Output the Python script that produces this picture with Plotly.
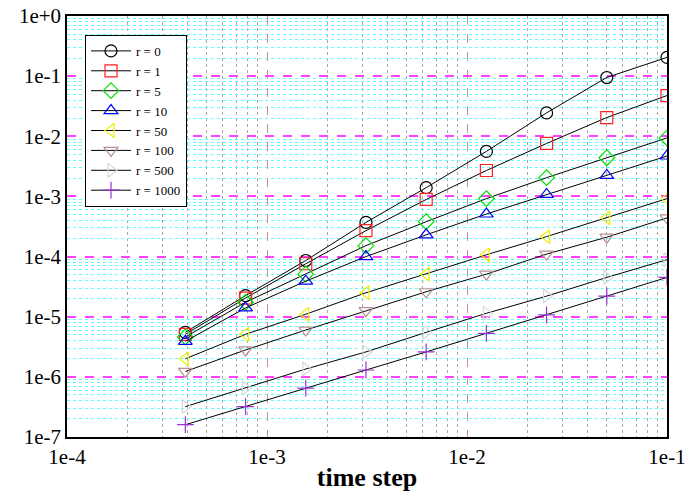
import plotly.graph_objects as go

time_step = [0.1, 0.05, 0.025, 0.0125, 0.00625, 0.003125, 0.0015625, 0.00078125, 0.000390625]

r0 = [0.205, 0.095, 0.0245, 0.0056, 0.0014, 3.7e-4, 8.6e-5, 2.24e-5, 5.5e-6]
r1 = [0.0476, 0.0205, 0.0076, 0.0027, 8.9e-4, 2.7e-4, 7.6e-5, 2.04e-5, 5.1e-6]
r5 = [0.0094, 0.0044, 0.00205, 9.2e-4, 3.8e-4, 1.52e-4, 5.1e-5, 1.74e-5, 4.6e-6]
r10 = [0.0047, 0.00224, 0.00108, 5.1e-4, 2.3e-4, 1.0e-4, 3.9e-5, 1.4e-5, 3.9e-6]
r50 = [9.2e-4, 4.4e-4, 2.15e-4, 1.07e-4, 5.1e-5, 2.5e-5, 1.1e-5, 5.1e-6, 2.0e-6]
r100 = [4.4e-4, 2.1e-4, 1.1e-4, 5.1e-5, 2.6e-5, 1.26e-5, 6.0e-6, 2.8e-6, 1.23e-6]
r500 = [8.9e-5, 4.5e-5, 2.2e-5, 1.14e-5, 5.5e-6, 2.6e-6, 1.35e-6, 6.5e-7, 3.2e-7]
r1000 = [4.5e-5, 2.2e-5, 1.07e-5, 5.3e-6, 2.6e-6, 1.3e-6, 6.5e-7, 3.2e-7, 1.6e-7]

series_names = ["r = 0", "r = 1", "r = 5", "r = 10", "r = 50", "r = 100", "r = 500", "r = 1000"]
series_values = [r0, r1, r5, r10, r50, r100, r500, r1000]
colors = ["#000000", "#ff2020", "#00e000", "#0000ff", "#f0f000", "#bc8f8f", "#d8d8d8", "#9b30d0"]
symbols = ["circle-open", "square-open", "diamond-open", "triangle-up-open",
           "triangle-left-open", "triangle-down-open", "triangle-right-open", "cross-thin-open"]

x_tickvals = [1e-4, 1e-3, 1e-2, 1e-1]
x_ticktext = ["1e-4", "1e-3", "1e-2", "1e-1"]
y_tickvals = [1e-7, 1e-6, 1e-5, 1e-4, 1e-3, 1e-2, 1e-1, 1e0]
y_ticktext = ["1e-7", "1e-6", "1e-5", "1e-4", "1e-3", "1e-2", "1e-1", "1e+0"]

x_minor = [m * 10.0 ** e for e in range(-4, -1) for m in range(2, 10)]
y_minor = [m * 10.0 ** e for e in range(-7, 0) for m in range(2, 10)]

fig = go.Figure()
for name, vals, col, sym in zip(series_names, series_values, colors, symbols):
    fig.add_trace(go.Scatter(
        x=time_step, y=vals, name=name, mode="lines+markers",
        line=dict(color="black", width=1),
        marker=dict(symbol=sym, size=12, color=col, line=dict(color=col, width=1.2)),
    ))

font_family = "Times New Roman, Liberation Serif, serif"
tick_font = dict(family=font_family, size=21, color="black")
fig.update_layout(
    width=690, height=496,
    margin=dict(l=67, r=23, t=16, b=59, autoexpand=False),
    paper_bgcolor="white", plot_bgcolor="white",
    font=dict(family=font_family, size=21, color="black"),
    showlegend=True,
    legend=dict(x=0.03, y=0.955, xanchor="left", yanchor="top",
                bgcolor="white", bordercolor="black", borderwidth=1,
                font=dict(family=font_family, size=13), tracegroupgap=0,
                itemwidth=40),
    xaxis=dict(type="log", range=[-4, -1], tickvals=x_tickvals, ticktext=x_ticktext,
               tickfont=tick_font, automargin=False,
               showgrid=True, gridcolor="#c89090", griddash="dash", gridwidth=1,
               showline=True, linecolor="black", linewidth=1.5, mirror=True,
               ticks="", zeroline=False,
               minor=dict(tickvals=x_minor, showgrid=True, gridcolor="#a8a8a8",
                          griddash="dot", gridwidth=1, ticks=""),
               title=dict(text="<b>time step</b>", font=dict(family=font_family, size=26),
                          standoff=0)),
    yaxis=dict(type="log", range=[-7, 0], tickvals=y_tickvals, ticktext=y_ticktext,
               tickfont=tick_font, automargin=False,
               showgrid=True, gridcolor="#ff40ff", griddash="dash", gridwidth=1.5,
               showline=True, linecolor="black", linewidth=1.5, mirror=True,
               ticks="", zeroline=False,
               minor=dict(tickvals=y_minor, showgrid=True, gridcolor="#60ffff",
                          griddash="dot", gridwidth=1, ticks="")),
)

fig.write_html("out.html")
